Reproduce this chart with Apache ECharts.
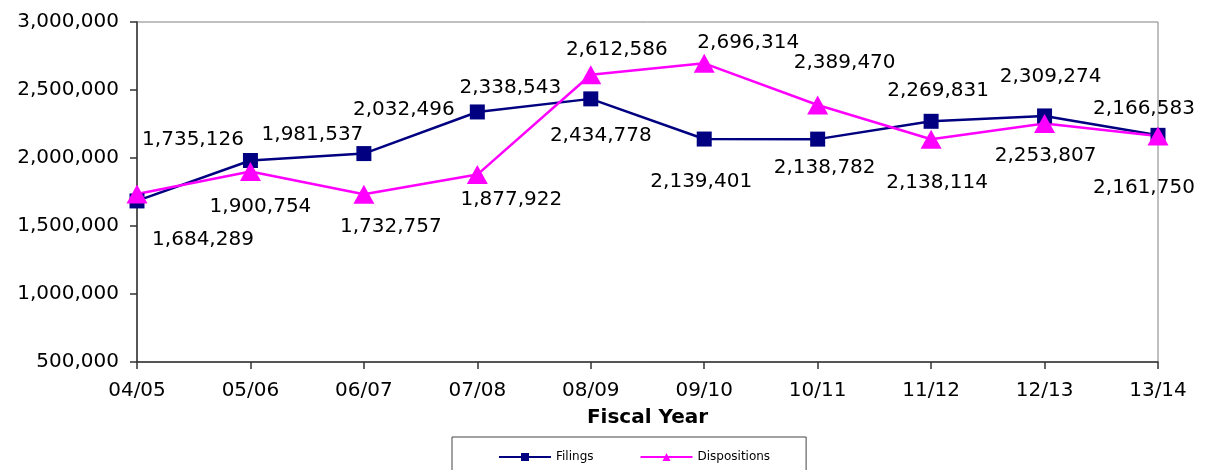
<!DOCTYPE html>
<html>
<head>
<meta charset="utf-8">
<script src="https://cdn.jsdelivr.net/npm/echarts@6/dist/echarts.min.js"></script>
<style>
    html, body { margin: 0; padding: 0; background: #fff; }
    #main { width: 1205px; height: 470px; }
</style>
</head>
<body>
<div id="main"></div>
<script>
// fiscal years
const years = ['04/05', '05/06', '06/07', '07/08', '08/09', '09/10', '10/11', '11/12', '12/13', '13/14'];
const filings = [1684289, 1981537, 2032496, 2338543, 2434778, 2139401, 2138782, 2269831, 2309274, 2166583];
const dispositions = [1735126, 1900754, 1732757, 1877922, 2612586, 2696314, 2389470, 2138114, 2253807, 2161750];

// where each value label sits relative to its point (px)
const filingsLabelOffset = [[66, 39], [62, -26], [40, -44], [33, -24], [10, 37], [-3, 43], [7, 29], [7, -31], [6, -39], [-14, -27]];
const dispLabelOffset = [[56, -54], [10, 35], [27, 32], [34, 25], [26, -25], [44, -21], [27, -42], [6, 44], [1, 32], [-14, 52]];

const FONT = 'DejaVu Sans';

function fmt(v) {
    return v.toLocaleString('en-US');
}

function withLabels(values, offsets) {
    return values.map((v, i) => ({
        value: v,
        label: { offset: offsets[i] }
    }));
}

const chart = echarts.init(document.getElementById('main'), null, { renderer: 'canvas' });

let option = {
    animation: false,
    backgroundColor: '#fff',
    textStyle: { fontFamily: FONT },
    grid: {
        left: 137,
        right: 47,
        top: 22,
        bottom: 108,
        show: true,
        borderColor: '#808080',
        borderWidth: 1
    },
    legend: {
        left: 452,
        top: 437,
        padding: [14, 36, 22, 46],
        borderColor: '#444',
        borderWidth: 1,
        itemWidth: 52,
        itemHeight: 10,
        itemGap: 46,
        textStyle: { fontFamily: FONT, fontSize: 12, color: '#000' },
        data: ['Filings', 'Dispositions']
    },
    xAxis: {
        type: 'category',
        data: years,
        boundaryGap: false,
        name: 'Fiscal Year',
        nameLocation: 'middle',
        nameGap: 46,
        nameTextStyle: { fontFamily: FONT, fontSize: 20, fontWeight: 'bold', color: '#000' },
        axisLine: { lineStyle: { color: '#333', width: 1.5 } },
        axisTick: { show: true, alignWithLabel: true, length: 7, lineStyle: { color: '#333', width: 1.5 } },
        axisLabel: { fontFamily: FONT, fontSize: 20, color: '#000', margin: 19 },
        splitLine: { show: false }
    },
    yAxis: {
        type: 'value',
        min: 500000,
        max: 3000000,
        interval: 500000,
        axisLine: { show: true, lineStyle: { color: '#333', width: 1.5 } },
        axisTick: { show: true, length: 7, lineStyle: { color: '#333', width: 1.5 } },
        axisLabel: {
            fontFamily: FONT, fontSize: 20, color: '#000', margin: 18,
            formatter: v => fmt(v)
        },
        splitLine: { show: false }
    },
    series: [
        {
            name: 'Filings',
            type: 'line',
            data: withLabels(filings, filingsLabelOffset),
            symbol: 'rect',
            symbolSize: 15,
            color: '#000080',
            lineStyle: { color: '#000080', width: 2.5 },
            itemStyle: { color: '#000080' },
            label: {
                show: true,
                position: 'inside',
                fontFamily: FONT,
                fontSize: 20,
                color: '#000',
                formatter: p => fmt(p.value)
            }
        },
        {
            name: 'Dispositions',
            type: 'line',
            data: withLabels(dispositions, dispLabelOffset),
            symbol: 'triangle',
            symbolSize: [21, 19],
            color: '#FF00FF',
            lineStyle: { color: '#FF00FF', width: 2.5 },
            itemStyle: { color: '#FF00FF' },
            label: {
                show: true,
                position: 'inside',
                fontFamily: FONT,
                fontSize: 20,
                color: '#000',
                formatter: p => fmt(p.value)
            }
        }
    ]
};

chart.setOption(option);
</script>
</body>
</html>
